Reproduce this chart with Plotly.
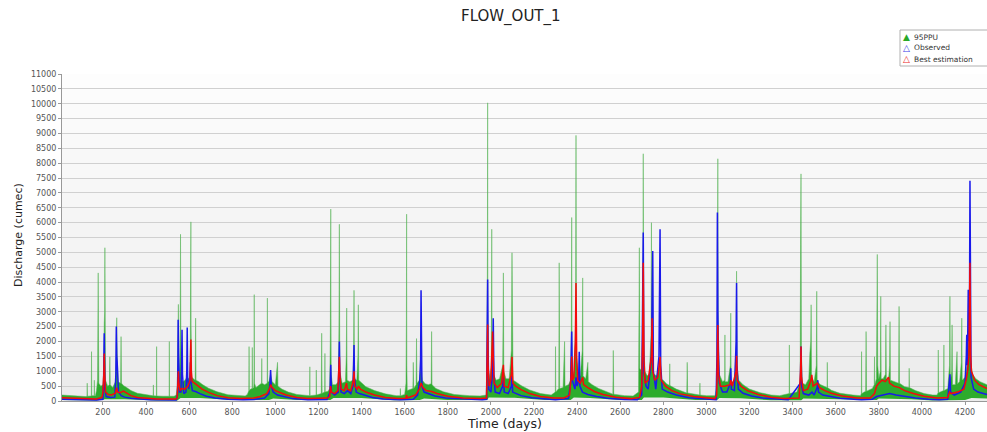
import plotly.graph_objects as go

# ---------------- data (day, discharge in cumec) ----------------
upper_95ppu = [
    (10,200),(60,170),(120,150),(126,160),(127,600),(128,160),(146,170),(147,1660),(148,180),(159,180),(160,700),(161,180),(165,180),
    (170,350),(175,700),(177,3010),(178,4309),(179,2500),(181,600),(190,500),(200,550),(204,1000),(206,2600),(208,3000),(209,5155),(210,2800),(212,700),(222,500),(230,550),(232,1490),(234,550),(245,450),(258,650),(262,1800),(264,2800),(266,1600),(270,650),(282,600),(284,2166),(286,600),(295,520),(310,450),(330,350),(360,260),(400,200),
    (433,175),(434,540),(435,175),(448,170),(449,1830),(450,170),(480,160),(507,160),(508,2000),(509,160),(530,160),(540,200),
    (545,500),(548,2000),(550,3250),(552,1500),(555,700),(558,1800),(560,5608),(562,1200),(566,700),(572,650),(580,700),(590,800),(600,750),(605,1000),(607,3460),(608,6025),(609,2500),(612,800),(620,750),(628,700),(630,2787),(632,700),(645,650),(660,560),(690,430),(730,310),(780,210),(840,170),
    (860,170),(870,220),(877,350),(878,1830),(879,350),(885,400),(892,420),(893,1800),(894,420),(900,450),(901,1000),(902,3578),(903,600),(910,450),(920,500),(930,550),(936,600),(937,1430),(938,600),(950,550),(962,600),(963,3463),(964,650),(970,650),(978,900),(985,650),(1000,550),(1010,1300),(1012,500),(1030,400),(1060,300),(1100,220),(1150,170),
    (1159,180),(1160,1150),(1161,180),(1189,200),(1190,1040),(1191,200),(1213,250),(1215,2280),(1217,260),(1229,300),(1230,1600),(1231,300),(1245,330),(1252,420),(1255,2100),(1257,6455),(1259,900),(1265,550),(1280,550),(1293,650),(1295,2500),(1297,5946),(1299,1000),(1310,600),(1325,650),(1329,1500),(1331,3125),(1333,700),(1345,650),(1360,700),(1363,1700),(1365,3723),(1367,750),(1378,700),(1383,1500),(1385,3237),(1387,700),(1400,600),(1420,480),(1460,350),(1510,240),(1560,180),
    (1579,180),(1580,420),(1581,180),(1600,220),(1606,600),(1608,2787),(1609,6285),(1610,1200),(1612,350),(1625,380),(1638,420),(1640,1300),(1642,420),(1653,550),(1655,2100),(1657,600),(1668,700),(1676,1200),(1682,700),(1695,580),(1710,550),(1723,580),(1725,2336),(1727,550),(1745,420),(1780,310),(1830,220),(1900,180),(1950,170),
    (1978,200),(1982,1000),(1984,5155),(1985,10030),(1986,3500),(1988,1100),(1995,750),(2002,1200),(2004,5778),(2006,1400),(2012,900),(2025,700),(2040,750),(2055,1200),(2057,3000),(2058,4309),(2060,1000),(2070,750),(2085,750),(2095,1700),(2098,4987),(2100,2500),(2103,700),(2115,650),(2140,520),(2180,370),(2230,250),(2280,200),
    (2299,300),(2300,1830),(2301,300),(2315,420),(2317,4648),(2319,420),(2335,450),(2342,2000),(2344,500),(2360,550),(2370,700),(2373,2200),(2375,6172),(2377,1100),(2385,900),(2393,2500),(2395,8936),(2397,1500),(2405,900),(2415,850),(2424,1700),(2426,4140),(2428,850),(2440,750),(2450,1300),(2452,650),(2470,550),(2500,420),(2540,290),(2566,230),(2568,1700),(2570,230),(2620,180),(2660,170),
    (2685,300),(2687,3578),(2689,5155),(2691,1100),(2700,1000),(2705,2500),(2707,8317),(2709,2000),(2715,1000),(2725,850),(2735,900),(2743,2200),(2745,6000),(2747,1500),(2755,900),(2770,850),(2783,1200),(2787,750),(2800,700),(2815,580),(2829,520),(2830,1250),(2831,520),(2860,400),(2909,270),(2911,1300),(2913,270),(2969,200),(2970,600),(2971,200),(3000,180),(3040,180),
    (3048,500),(3051,2500),(3053,8148),(3055,2000),(3060,900),(3075,650),(3085,700),(3086,2223),(3087,650),(3100,650),(3111,1200),(3113,2956),(3115,650),(3130,650),(3138,1700),(3140,4367),(3142,1200),(3150,700),(3170,550),(3200,400),(3250,280),(3300,200),(3340,180),
    (3384,250),(3385,1885),(3386,250),(3420,300),(3435,650),(3437,5270),(3439,7640),(3441,1600),(3445,600),(3460,550),(3475,750),(3480,1600),(3484,2000),(3486,3237),(3488,800),(3500,650),(3510,1200),(3512,3690),(3514,650),(3530,550),(3545,500),(3560,450),(3561,1300),(3562,450),(3580,360),(3620,260),(3680,200),(3715,180),
    (3719,250),(3720,1660),(3721,250),(3739,330),(3741,2336),(3743,330),(3770,420),(3779,550),(3780,1490),(3781,550),(3789,750),(3791,3630),(3793,4930),(3795,1200),(3800,750),(3807,1000),(3809,3520),(3811,750),(3820,750),(3831,900),(3833,2560),(3835,750),(3845,700),(3850,1200),(3852,2670),(3854,700),(3870,650),(3892,600),(3894,3182),(3896,600),(3920,480),(3940,450),(3941,1100),(3942,450),(3970,350),(4010,250),(4050,200),
    (4070,200),(4075,280),(4076,1715),(4077,280),(4101,350),(4102,1885),(4103,350),(4120,420),(4128,1200),(4130,3520),(4132,600),(4138,1000),(4140,2560),(4142,550),(4155,550),(4163,1660),(4165,580),(4175,650),(4183,1300),(4185,2787),(4187,700),(4200,800),(4210,1200),(4218,2200),(4223,4500),(4226,1300),(4235,900),(4250,750),(4270,650),(4302,550),
]

lower_95ppu = [
    (10,30),(170,20),(210,60),(300,60),(450,20),(545,20),(560,100),(650,100),(800,30),(970,30),(990,80),(1100,30),
    (1255,30),(1270,100),(1400,100),(1550,25),(1670,30),(1690,80),(1800,30),(1983,30),(1990,120),(2110,110),(2250,30),
    (2370,30),(2385,120),(2460,100),(2600,30),(2700,30),(2710,120),(2800,120),(2950,30),(3050,30),(3060,100),(3160,90),
    (3300,25),(3440,25),(3450,80),(3570,60),(3700,20),(3790,30),(3800,80),(3950,60),(4050,20),(4200,30),(4230,100),(4302,80),
]

observed = [
    (10,60),(100,40),(170,35),(200,60),(203,600),(205,1800),(206,2280),(207,1600),(209,400),(215,150),(235,120),(255,130),(260,900),(262,2505),(264,1500),(266,1300),(268,900),(272,300),(285,180),(300,130),(330,90),(370,60),(420,40),(540,30),
    (546,200),(548,1500),(549,2730),(551,1500),(555,300),(562,300),(565,1200),(567,2400),(569,900),(575,250),(585,300),(589,1000),(591,2470),(593,800),(598,400),(603,700),(606,1300),(609,600),(615,350),(630,320),(650,250),(680,160),(720,100),(780,60),(850,40),
    (900,50),(950,100),(970,250),(975,600),(978,1040),(981,500),(990,300),(1010,200),(1040,140),(1080,80),(1150,40),
    (1240,50),(1254,300),(1257,1220),(1260,300),(1275,200),(1292,300),(1295,1300),(1297,2000),(1299,900),(1305,300),(1320,250),(1335,350),(1350,250),(1360,500),(1363,1200),(1365,1885),(1367,800),(1375,300),(1390,250),(1410,200),(1450,120),(1500,70),(1580,40),
    (1640,60),(1660,200),(1670,700),(1674,1400),(1676,3723),(1678,1400),(1680,500),(1690,300),(1710,250),(1740,170),(1790,100),(1870,60),(1960,40),
    (1980,60),(1983,2000),(1985,4085),(1987,1800),(1990,400),(2000,300),(2008,1000),(2011,2787),(2014,900),(2020,300),(2040,250),(2055,500),(2058,800),(2062,300),(2080,250),(2096,500),(2098,900),(2101,300),(2115,250),(2140,180),(2190,110),(2250,60),(2300,40),
    (2360,80),(2370,600),(2375,2336),(2378,700),(2390,400),(2395,800),(2400,500),(2407,700),(2410,1660),(2413,500),(2425,300),(2450,220),(2490,150),(2540,90),(2620,50),(2680,40),
    (2700,200),(2704,2500),(2707,5664),(2710,1000),(2720,500),(2730,400),(2745,1500),(2749,4000),(2751,5043),(2754,1000),(2765,400),(2780,1500),(2785,5778),(2788,1200),(2795,400),(2820,300),(2860,200),(2920,110),(2990,60),(3045,40),
    (3049,1500),(3051,6341),(3053,3000),(3056,1660),(3060,600),(3075,300),(3095,300),(3111,600),(3113,1100),(3116,400),(3130,350),(3138,2000),(3140,3971),(3142,1200),(3148,400),(3170,260),(3210,170),(3260,100),(3320,60),(3380,40),
    (3436,600),(3439,1830),(3442,500),(3450,250),(3475,200),(3490,300),(3500,200),(3514,450),(3517,700),(3520,300),(3540,200),(3570,150),(3620,90),(3700,50),(3720,40),
    (3770,60),(3790,150),(3820,200),(3850,250),(3880,200),(3920,150),(3970,100),(4030,60),(4080,40),
    (4120,60),(4127,500),(4130,900),(4133,300),(4150,200),(4180,300),(4200,600),(4206,1500),(4208,2230),(4211,1200),(4213,2500),(4215,3746),(4218,2000),(4221,3500),(4223,7413),(4225,2000),(4228,800),(4240,400),(4260,300),(4302,220),
]

best_estimation = [
    (10,110),(100,80),(170,70),(195,120),(200,300),(204,900),(206,1600),(208,900),(212,300),(225,220),(240,200),(258,260),(263,450),(268,300),(280,280),(295,330),(310,260),(330,180),(360,120),(400,90),(450,70),
    (540,70),(544,100),(547,500),(550,1000),(552,600),(558,350),(565,420),(580,400),(595,500),(604,700),(606,1500),(608,2065),(610,1000),(614,650),(625,600),(640,520),(660,400),(690,290),(730,180),(780,110),(840,80),
    (900,100),(930,150),(960,250),(972,400),(978,550),(985,450),(1000,350),(1020,280),(1050,200),(1100,120),(1150,80),
    (1200,90),(1240,100),(1252,150),(1256,500),(1260,300),(1275,250),(1290,350),(1295,900),(1297,1490),(1300,800),(1305,400),(1320,350),(1330,600),(1334,400),(1350,350),(1362,700),(1365,1000),(1368,500),(1380,400),(1386,500),(1395,400),(1420,300),(1460,200),(1510,120),(1570,80),
    (1605,90),(1609,200),(1612,100),(1650,200),(1668,400),(1676,600),(1685,450),(1700,350),(1725,320),(1750,250),(1800,160),(1870,100),(1950,80),
    (1980,100),(1983,1500),(1985,2570),(1987,1200),(1992,500),(2000,700),(2005,1500),(2008,2336),(2011,1500),(2015,600),(2030,450),(2050,600),(2058,1220),(2062,500),(2080,450),(2095,900),(2098,1490),(2102,600),(2115,500),(2140,380),(2180,250),(2230,150),(2290,100),
    (2340,100),(2365,200),(2372,800),(2375,1500),(2378,700),(2385,800),(2392,2000),(2395,3971),(2398,1500),(2403,700),(2415,600),(2426,800),(2430,550),(2450,450),(2480,320),(2520,220),(2580,130),(2650,80),
    (2690,120),(2700,500),(2704,2000),(2707,4648),(2710,1500),(2715,600),(2730,700),(2745,1500),(2748,2787),(2751,1000),(2760,700),(2775,800),(2785,1490),(2790,700),(2810,500),(2840,350),(2880,240),(2940,150),(3000,100),(3040,80),
    (3048,200),(3051,1500),(3053,2560),(3056,900),(3065,500),(3085,500),(3110,550),(3113,700),(3120,500),(3138,1000),(3140,1520),(3143,700),(3160,500),(3190,350),(3240,220),(3300,130),(3360,80),
    (3430,100),(3437,1000),(3439,1830),(3441,800),(3450,350),(3470,400),(3485,700),(3489,880),(3495,500),(3515,600),(3525,450),(3550,350),(3580,260),(3630,170),(3700,100),
    (3760,100),(3780,250),(3790,500),(3800,600),(3815,700),(3830,650),(3845,800),(3850,600),(3870,500),(3895,450),(3920,350),(3960,250),(4010,160),(4070,100),
    (4120,120),(4128,300),(4135,250),(4165,300),(4195,400),(4205,700),(4212,1000),(4218,1500),(4223,4648),(4226,1500),(4230,1000),(4245,700),(4265,550),(4302,420),
]

x_tick_values = list(range(200, 4201, 200))
y_tick_values = list(range(0, 11001, 500))
legend_labels = ["95PPU", "Observed", "Best estimation"]
chart_title = "FLOW_OUT_1"
x_title = "Time (days)"
y_title = "Discharge (cumec)"


def unzip(pairs):
    pairs = sorted(pairs, key=lambda p: p[0])
    return [p[0] for p in pairs], [p[1] for p in pairs]


# ---------------- layout geometry (pixels) ----------------
W, H = 987, 432
ML, MR, MT, MB = 62, 0, 74, 31
PW, PH = W - ML - MR, H - MT - MB


def px(xp):
    return (xp - ML) / PW


def py(yp):
    return (H - MB - yp) / PH


fig = go.Figure()

xl, yl = unzip(lower_95ppu)
xu, yu = unzip(upper_95ppu)
xo, yo = unzip(observed)
xb, yb = unzip(best_estimation)

fig.add_trace(go.Scatter(x=xl, y=yl, mode="lines", line=dict(width=0, color="rgba(0,0,0,0)"),
                         showlegend=False, hoverinfo="skip"))
fig.add_trace(go.Scatter(x=xu, y=yu, mode="lines", fill="tonexty",
                         fillcolor="rgb(45,172,45)",
                         line=dict(width=0.9, color="rgba(90,180,90,0.6)"),
                         showlegend=False, hoverinfo="skip"))
fig.add_trace(go.Scatter(x=xo, y=yo, mode="lines", line=dict(width=1.5, color="rgb(25,25,235)"),
                         showlegend=False, hoverinfo="skip"))
fig.add_trace(go.Scatter(x=xb, y=yb, mode="lines", line=dict(width=1.5, color="rgb(245,10,10)"),
                         showlegend=False, hoverinfo="skip"))

# stepped vertical gradient for the plot background
shapes = []
nb = 22
for k in range(nb):
    t = k / (nb - 1)
    c = int(236 + (253 - 236) * t)
    shapes.append(dict(type="rect", xref="paper", yref="paper", x0=0, x1=1,
                       y0=k / nb, y1=(k + 1) / nb, fillcolor=f"rgb({c},{c},{c})",
                       line=dict(width=0), layer="below"))

# legend box
shapes.append(dict(type="rect", xref="paper", yref="paper", x0=px(900), x1=px(995),
                   y0=py(66), y1=py(30), fillcolor="white",
                   line=dict(color="#b0b0b0", width=1), layer="above"))

font_family = "DejaVu Sans, Verdana, sans-serif"
annotations = [
    dict(text=chart_title, x=px(511), y=py(17), xref="paper", yref="paper", showarrow=False,
         font=dict(family=font_family, size=15, color="#222"), xanchor="center", yanchor="middle"),
    dict(text=x_title, x=px(504), y=py(423), xref="paper", yref="paper", showarrow=False,
         font=dict(family=font_family, size=12.5, color="#222"), xanchor="center", yanchor="middle"),
    dict(text=y_title, x=px(18), y=py(235), xref="paper", yref="paper", showarrow=False, textangle=-90,
         font=dict(family=font_family, size=11, color="#222"), xanchor="center", yanchor="middle"),
]
sym = [("▲", "rgb(40,168,40)"), ("△", "rgb(60,60,230)"), ("△", "rgb(235,40,40)")]
rows = [37, 48, 59]
for (s, col), lab, ry in zip(sym, legend_labels, rows):
    annotations.append(dict(text=s, x=px(906), y=py(ry), xref="paper", yref="paper", showarrow=False,
                            font=dict(family=font_family, size=9, color=col), xanchor="center", yanchor="middle"))
    annotations.append(dict(text=lab, x=px(912), y=py(ry), xref="paper", yref="paper", showarrow=False,
                            font=dict(family=font_family, size=7.5, color="#333"), xanchor="left", yanchor="middle"))

fig.update_layout(
    width=W, height=H,
    margin=dict(l=ML, r=MR, t=MT, b=MB, pad=0),
    paper_bgcolor="white", plot_bgcolor="#f4f4f4",
    showlegend=False,
    shapes=shapes, annotations=annotations,
    xaxis=dict(range=[10, 4302], tickmode="array", tickvals=x_tick_values,
               ticktext=[str(v) for v in x_tick_values],
               showgrid=False, zeroline=False, showline=True, linecolor="#999", linewidth=1,
               ticks="outside", ticklen=3, tickcolor="#999",
               tickfont=dict(family=font_family, size=8, color="#555")),
    yaxis=dict(range=[0, 11000], tickmode="array", tickvals=y_tick_values,
               ticktext=[str(v) for v in y_tick_values],
               showgrid=True, gridcolor="#d0d0d0", gridwidth=1, zeroline=False,
               showline=True, linecolor="#999", linewidth=1,
               ticks="outside", ticklen=3, tickcolor="#999",
               tickfont=dict(family=font_family, size=8, color="#555")),
)

fig.write_html("out.html")
